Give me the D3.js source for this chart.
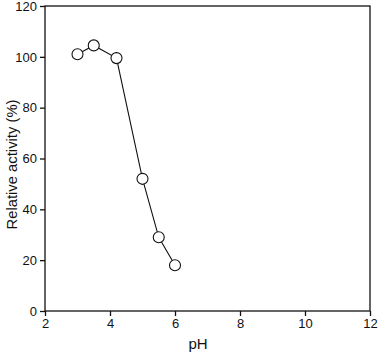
<!DOCTYPE html>
<html>
<head>
<meta charset="utf-8">
<script src="https://cdn.jsdelivr.net/npm/d3@7"></script>
<style>
  body { margin: 0; background: #fff; }
  svg { display: block; font-family: "Liberation Sans", Arial, sans-serif; }
</style>
</head>
<body>
<div id="chart"></div>
<script>
// pH profile data
const phValues = [3.0, 3.5, 4.2, 5.0, 5.5, 6.0];
const activityValues = [101, 104.5, 99.5, 52, 29, 18];
const xTicks = [2, 4, 6, 8, 10, 12];
const yTicks = [0, 20, 40, 60, 80, 100, 120];

const width = 378;
const height = 353;
const margin = { top: 6, right: 8, bottom: 42, left: 45 };
const innerW = width - margin.left - margin.right;
const innerH = height - margin.top - margin.bottom;

const svg = d3.select("#chart")
    .append("svg")
    .attr("width", width)
    .attr("height", height);

const g = svg.append("g")
    .attr("transform", `translate(${margin.left},${margin.top})`);

const x = d3.scaleLinear().domain([2, 12]).range([0, innerW]);
const y = d3.scaleLinear().domain([0, 120]).range([innerH, 0]);

// frame
g.append("rect")
    .attr("width", innerW)
    .attr("height", innerH)
    .attr("fill", "none")
    .attr("stroke", "#111")
    .attr("stroke-width", 1.3);

const xAxis = g.append("g")
    .attr("transform", `translate(0,${innerH})`)
    .call(d3.axisBottom(x).tickValues(xTicks).tickSize(5).tickPadding(3).tickFormat(d3.format("d")));

const yAxis = g.append("g")
    .call(d3.axisLeft(y).tickValues(yTicks).tickSize(5).tickPadding(3).tickFormat(d3.format("d")));

[xAxis, yAxis].forEach(a => {
    a.select(".domain").remove();
    a.selectAll("line").attr("stroke", "#111").attr("stroke-width", 1.3);
    a.selectAll("text")
        .attr("fill", "#111")
        .style("font-size", "13px")
        .style("font-family", "\"Liberation Sans\", Arial, sans-serif");
});

const line = d3.line()
    .x((d, i) => x(phValues[i]))
    .y(d => y(d));

g.append("path")
    .datum(activityValues)
    .attr("d", line)
    .attr("fill", "none")
    .attr("stroke", "#111")
    .attr("stroke-width", 1.1);

g.selectAll(".pt")
    .data(activityValues)
    .enter()
    .append("circle")
    .attr("class", "pt")
    .attr("cx", (d, i) => x(phValues[i]))
    .attr("cy", d => y(d))
    .attr("r", 5.5)
    .attr("fill", "#fff")
    .attr("stroke", "#111")
    .attr("stroke-width", 1.1);

svg.append("text")
    .attr("x", 198)
    .attr("y", 349)
    .attr("text-anchor", "middle")
    .style("font-size", "15px")
    .attr("fill", "#111")
    .text("pH");

svg.append("text")
    .attr("transform", `translate(17,${margin.top + innerH / 2 + 6}) rotate(-90)`)
    .attr("text-anchor", "middle")
    .attr("textLength", 130)
    .attr("lengthAdjust", "spacingAndGlyphs")
    .style("font-size", "14.5px")
    .attr("fill", "#111")
    .text("Relative activity (%)");
</script>
</body>
</html>
